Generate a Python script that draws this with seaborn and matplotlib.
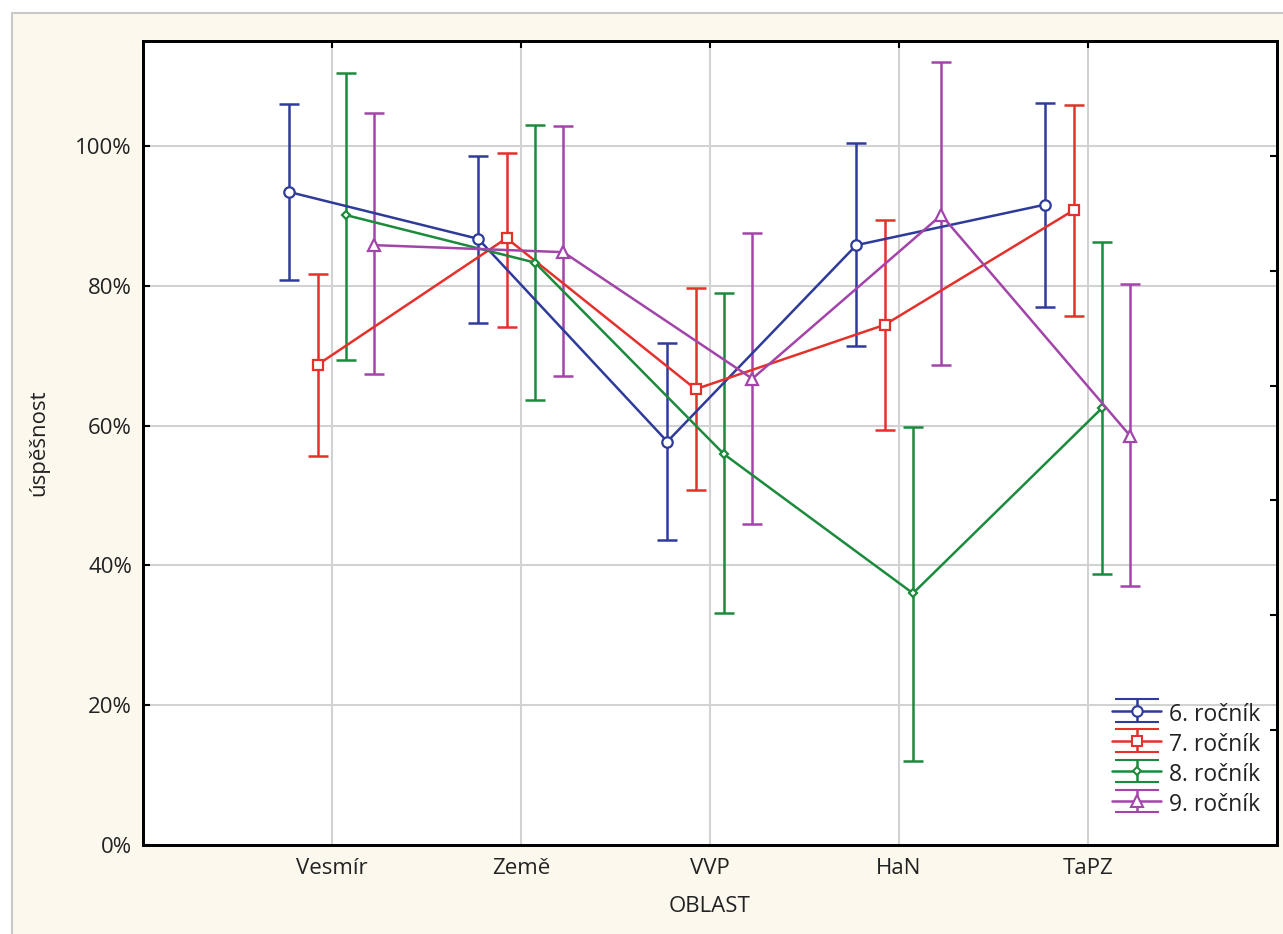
import numpy as np
import pandas as pd
import matplotlib
matplotlib.use("Agg")
import matplotlib.pyplot as plt
from matplotlib.patches import Rectangle
import seaborn as sns

categories = ["Vesmír", "Země", "VVP", "HaN", "TaPZ"]
series = ["6. ročník", "7. ročník", "8. ročník", "9. ročník"]

mean6 = [93.4, 86.7, 57.7, 85.8, 91.6]
upper6 = [106.0, 98.6, 71.8, 100.4, 106.2]
lower6 = [80.8, 74.7, 43.6, 71.4, 77.0]

mean7 = [68.7, 86.8, 65.2, 74.4, 90.8]
upper7 = [81.7, 99.0, 79.7, 89.4, 105.9]
lower7 = [55.6, 74.1, 50.8, 59.4, 75.7]

mean8 = [90.1, 83.3, 55.9, 36.0, 62.5]
upper8 = [110.4, 103.0, 79.0, 59.8, 86.3]
lower8 = [69.4, 63.7, 33.2, 12.0, 38.8]

mean9 = [85.8, 84.8, 66.7, 90.1, 58.5]
upper9 = [104.7, 102.9, 87.6, 112.0, 80.3]
lower9 = [67.4, 67.1, 45.9, 68.7, 37.1]

yticks = [0, 20, 40, 60, 80, 100]
ytick_labels = ["0%", "20%", "40%", "60%", "80%", "100%"]

means = [mean6, mean7, mean8, mean9]
uppers = [upper6, upper7, upper8, upper9]
lowers = [lower6, lower7, lower8, lower9]

colors = ["#2E3B9A", "#E4312B", "#1C8A3C", "#A244AA"]
markers = ["o", "s", "D", "^"]
msizes = [7.5, 7, 4.5, 8]
offsets = [-0.226, -0.076, 0.074, 0.224]

sns.set_theme(style="white")
plt.rcParams["font.family"] = ["Open Sans", "DejaVu Sans"]

W, H = 1283, 934
fig = plt.figure(figsize=(W / 100, H / 100), dpi=100, facecolor="white")
fig.patches.append(Rectangle((12 / W, -0.2), 1.5, 1.2 - 13 / H, transform=fig.transFigure,
                             facecolor="#FCF8EE", edgecolor="#C9C9C9", lw=1.5, zorder=-10))
ax = fig.add_axes([143 / W, 1 - 845 / H, (1277 - 143) / W, (845 - 41) / H])
ax.set_facecolor("white")

cat_idx = np.arange(len(categories))
for i, name in enumerate(series):
    df = pd.DataFrame({"x": cat_idx + offsets[i], "value": means[i]})
    sns.lineplot(data=df, x="x", y="value", ax=ax, color=colors[i], marker=markers[i],
                 markersize=msizes[i], markerfacecolor="white", markeredgecolor=colors[i],
                 markeredgewidth=1.6, linewidth=1.8, legend=False, zorder=3)
    m = np.array(means[i]); u = np.array(uppers[i]); l = np.array(lowers[i])
    ax.errorbar(df["x"], m, yerr=[m - l, u - m], fmt="none", ecolor=colors[i],
                elinewidth=1.8, capsize=7, capthick=1.8, zorder=2)

# legend proxies
handles = []
for i, name in enumerate(series):
    h = ax.errorbar([np.nan], [np.nan], yerr=[[np.nan], [np.nan]], fmt="-" + markers[i],
                    color=colors[i], ms=msizes[i], mfc="white", mec=colors[i], mew=1.5,
                    lw=1.8, elinewidth=1.8, capsize=16, capthick=1.8, label=name)
    handles.append(h)
leg = ax.legend(handles=handles, labels=series, loc="lower right",
                bbox_to_anchor=(0.997, 0.018), frameon=False, fontsize=16.5,
                handlelength=2.1, handleheight=1.2, labelspacing=0.2, handletextpad=0.35,
                borderaxespad=0.2)
for t in leg.get_texts():
    t.set_color("#222222")

ax.set_xlim(-1, 5)
ax.set_ylim(0, 115)
ax.set_xticks(cat_idx)
ax.set_xticklabels(categories, fontsize=16)
ax.set_yticks(yticks)
ax.set_yticklabels(ytick_labels, fontsize=16)
ax.grid(True, color="#D2D2D2", lw=1.5, zorder=0)
ax.set_axisbelow(True)
ax.tick_params(axis="both", direction="in", length=5, width=1.5, color="black",
               labelcolor="#222222")
ax.tick_params(axis="x", top=True, pad=9)
ax.tick_params(axis="y", left=True, right=False, pad=8)
for sp in ax.spines.values():
    sp.set_color("black")
    sp.set_linewidth(2)

ax.set_xlabel("OBLAST", fontsize=16, color="#222222")
ax.set_ylabel("úspěšnost", fontsize=16, color="#222222")
ax.xaxis.set_label_coords(0.5, -0.063)
ax.yaxis.set_label_coords(-0.083, 0.5)

ax2 = ax.twinx()
ax2.set_ylim(0, 7)
ax2.set_yticks(range(1, 7))
ax2.set_yticklabels([])
ax2.tick_params(axis="y", direction="in", length=5, width=1.5, color="black")
ax2.grid(False)
for sp in ax2.spines.values():
    sp.set_color("black")
    sp.set_linewidth(2)

fig.savefig("out.png", dpi=100, facecolor=fig.get_facecolor())
